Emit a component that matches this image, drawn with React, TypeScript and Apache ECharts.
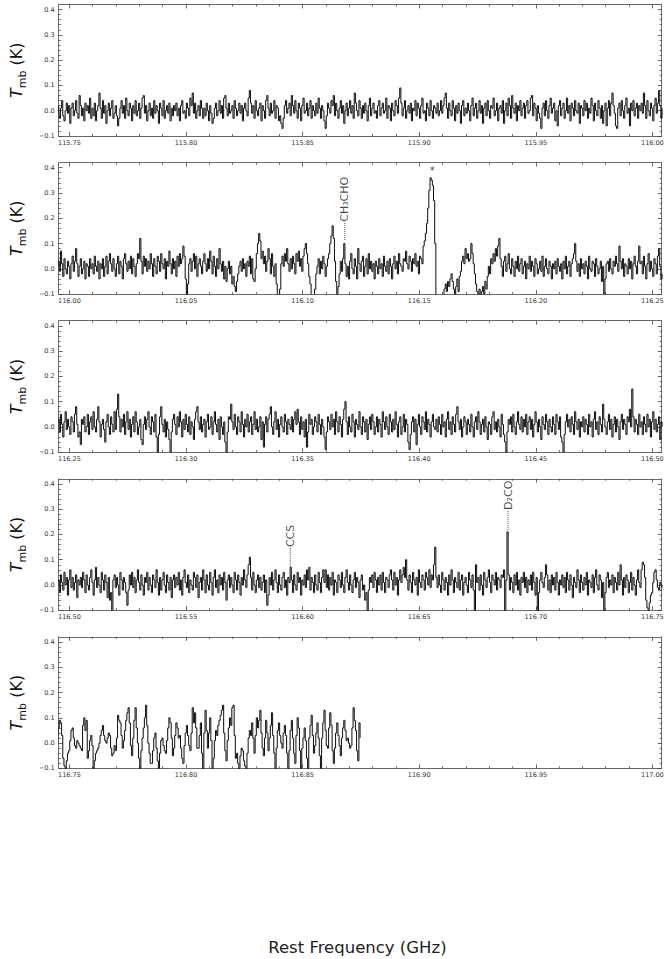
import React, { useEffect, useRef } from 'react';
import * as echarts from 'echarts';

// Spectrum: main-beam temperature in units of 0.01 K, one value per 0.5 MHz channel
const FREQ_START = 115.7454; // GHz, first channel
const CHANNEL_GHZ = 0.0005;

const seg1 = [
  2,-3,1,4,-2,-4,0,3,-1,2,-5,1,3,-2,0,4,-1,-3,6,2,-2,1,-4,3,0,
  2,-1,5,-3,1,-2,3,-4,0,2,7,1,-3,4,-1,2,-5,0,3,-2,1,4,-3,-1,2,
  -2,-6,-3,1,4,-1,2,-3,5,0,-2,3,1,-4,2,-1,4,-2,0,3,-3,1,5,6,-1,
  2,-4,0,3,-2,1,-3,4,-1,2,0,-5,3,1,-2,4,-3,0,2,-1,3,-4,1,-2,2,
  0,3,-2,1,-4,2,4,-1,0,-3,3,1,-2,5,2,7,-1,3,-3,0,2,-2,4,1,-3,
  1,-2,3,0,-4,2,-1,-5,-3,1,3,-2,0,4,-1,2,-3,5,6,1,-2,3,-1,0,2,
  -3,4,1,-2,0,3,-1,2,-4,1,3,0,-2,5,8,3,-1,2,-3,4,0,-2,1,3,-4,
  2,0,-3,4,6,1,-2,3,-1,0,4,-3,2,1,-4,-2,-5,-7,-3,2,4,-1,1,3,-2,
  6,2,-1,4,0,-3,3,1,-4,2,5,-1,0,3,-2,1,4,-3,2,0,-2,3,-1,5,1,
  -3,2,0,-4,-7,-2,3,1,-1,4,2,6,-2,3,0,-3,1,4,-1,2,-5,0,3,-2,1,
  4,-1,2,-3,7,3,0,-2,4,1,-3,2,-1,3,0,-4,2,5,-2,1,3,-1,0,-3,2,
  4,-2,1,3,-1,0,5,-3,2,1,-4,3,0,-2,4,2,-1,5,9,3,-2,1,4,-3,0,
  2,-1,3,-4,1,0,4,-2,3,1,-3,2,5,-1,0,-4,3,1,-2,4,0,-3,2,1,-1,
  3,-2,0,4,-1,2,5,7,1,-3,3,0,-2,4,1,-4,2,-1,3,0,-5,2,4,-2,1,
  -1,3,0,-4,2,5,-2,1,3,-3,0,4,-1,2,-5,1,3,-2,4,0,-3,2,1,5,-2,
  0,3,-4,1,2,-1,4,-5,0,3,-2,5,2,-3,6,1,-1,3,-4,2,0,4,-2,1,3,
  -3,2,4,-1,0,5,6,-2,3,1,-4,2,-1,-3,-7,1,3,-2,4,0,-3,2,5,-1,1,
  3,-4,0,-6,2,4,-2,1,3,-3,0,5,-1,2,-4,3,1,-2,4,0,-1,3,-5,2,1,
  -2,4,0,3,-3,1,-1,5,2,-4,3,0,-2,4,1,-3,2,-5,0,3,-6,1,4,-2,3,
  7,2,-1,-6,-7,1,3,-2,4,0,-3,2,5,-1,1,-6,3,0,4,-2,1,3,-3,2,0,
];
const seg2 = [
  3,-1,7,2,-3,4,0,-2,3,1,-4,2,5,-1,3,8,2,-3,1,4,-2,0,3,-4,2,
  1,-3,4,0,2,-2,5,1,-1,3,-4,2,0,4,-3,1,5,-2,3,6,2,-1,4,0,-3,
  2,5,-2,3,1,-4,4,6,2,-1,3,0,5,-2,4,1,-3,2,6,4,12,3,-2,5,1,
  4,-1,3,0,6,2,-3,4,1,-2,5,3,-1,6,2,0,4,-4,3,1,7,2,-2,4,0,
  3,-3,5,1,6,2,4,9,5,-4,-12,-6,2,4,-1,3,6,0,5,-3,2,4,1,-2,3,
  6,2,-1,4,0,7,3,-2,5,1,-3,4,0,8,2,-1,3,-4,1,-5,0,3,-2,1,-6,
  -3,-7,-9,-5,-2,1,3,-1,4,0,2,-3,3,1,5,-2,4,-4,-5,0,6,10,14,11,4,
  7,2,5,-1,3,8,4,-2,6,1,-3,2,-6,-12,-14,-8,2,5,1,6,3,8,2,-1,4,
  0,5,2,-2,6,3,7,1,4,-1,5,8,10,6,2,-3,-6,-12,-14,-13,-8,-2,1,4,-2,
  3,0,5,2,-3,1,4,6,10,13,17,12,3,-5,-11,-7,-2,3,-1,4,10,2,-3,1,-4,
  3,6,0,-2,4,1,-4,8,2,-1,3,5,-3,1,4,-2,6,0,3,-1,2,-4,3,1,-2,
  4,0,2,-3,5,1,-1,3,-2,4,1,-4,2,5,0,3,-2,6,2,1,-1,4,3,7,2,
  0,5,3,-1,4,2,6,1,3,-2,5,4,2,9,11,14,18,24,31,36,35,33,27,10,-15,
  -16,-14,-18,-15,-13,-12,-8,-6,-9,-5,-7,-4,-2,-5,-8,-10,-7,-4,-9,-3,-1,3,5,2,8,
  4,6,3,4,10,6,2,-2,-6,-9,-10,-8,-11,-9,-7,-10,-5,-8,-3,1,-2,4,2,6,3,
  8,5,9,12,4,1,-3,3,5,-1,2,6,0,-2,4,1,-3,3,0,5,-1,2,4,-2,1,
  3,-4,2,0,5,-1,3,1,-3,4,2,-2,0,3,-1,5,-3,1,4,0,-2,3,1,-4,2,
  0,3,-2,4,1,-1,2,-4,3,0,5,-2,1,3,-3,2,4,6,10,3,-1,2,-3,4,0,
  2,-2,3,1,-4,5,0,-1,3,2,-3,4,1,-2,0,3,-5,1,-10,-4,2,3,-1,4,0,
  -2,3,1,5,2,-1,9,3,0,4,-3,2,1,-2,4,0,3,-4,2,5,1,-2,3,9,2,
];
const seg3 = [
  3,-2,5,1,-4,2,6,-1,3,0,-3,4,2,-2,5,8,1,-4,-2,-7,3,1,4,-2,0,
  5,-3,2,4,-1,6,0,-2,3,8,2,-4,1,3,-1,-6,2,5,0,-3,4,1,-2,6,-1,
  7,13,4,-2,3,0,5,-3,2,6,-1,3,-4,1,4,-2,6,2,-3,0,3,-5,-7,1,4,
  -1,3,6,0,-3,4,2,-2,5,-4,-10,-3,4,8,1,-2,3,-4,2,-1,-5,-10,-2,3,5,
  1,-3,4,0,6,2,-4,3,-1,5,1,-2,4,-3,2,0,-5,3,6,8,2,-1,4,-2,1,
  3,-4,2,5,-1,0,4,-3,2,6,1,-2,3,-5,4,0,-3,2,-6,-10,-2,4,3,9,2,
  -1,5,0,-3,4,2,-2,6,1,-4,3,0,5,-2,2,4,-3,1,6,-1,3,-2,0,4,-5,
  2,-8,1,4,-2,3,5,8,0,-3,2,6,-1,3,-4,1,4,0,-2,5,2,-3,3,1,-1,
  4,-2,3,6,1,7,2,-3,4,-1,2,-4,3,-8,-2,5,1,3,-3,0,4,2,-2,5,1,
  -3,3,0,-4,-9,-2,4,2,-1,5,0,3,-3,6,2,-2,4,1,-4,3,7,10,2,-3,4,
  0,-2,5,2,-4,3,1,-1,6,0,-3,4,2,-2,3,-5,1,4,-1,5,2,-3,0,4,-2,
  3,1,-4,6,2,-1,4,0,-3,5,2,-2,3,-1,6,1,-4,2,4,-3,0,5,-2,3,1,
  -6,-9,-3,2,4,-2,3,-7,1,5,0,-3,4,2,-1,6,-2,3,1,-4,2,5,0,-1,3,
  -2,4,1,-3,5,0,2,-4,3,6,-1,2,-3,4,1,-2,5,8,2,-1,3,-4,0,4,2,
  -3,3,1,-2,5,0,-4,2,4,-1,6,2,-3,1,3,-2,4,0,-5,2,1,-3,4,6,-1,
  2,-2,3,0,-4,5,1,-3,-6,-10,-2,3,1,4,-2,5,0,-3,2,6,1,-1,4,-2,3,
  0,5,-3,2,4,-1,3,-4,1,6,2,-2,3,0,-5,4,1,-1,5,2,-3,3,0,-2,4,
  1,-3,5,2,-1,4,-4,-6,-10,-3,2,5,0,3,-2,4,1,-3,6,2,-1,3,-4,2,0,
  4,-2,3,1,-3,5,0,2,-4,3,6,-1,2,-3,4,1,-2,9,3,0,-3,2,5,-1,3,
  -4,1,4,-2,3,0,-5,2,5,-1,3,1,-3,4,2,7,0,15,4,-2,3,1,-3,5,0,
];
const seg4 = [
  2,-3,4,1,-2,5,0,3,-4,2,6,-1,3,-2,1,4,-5,2,0,3,-1,5,2,-3,4,
  0,-2,3,6,1,-4,2,7,-1,3,0,-3,5,2,-2,4,1,-5,3,-6,-3,-11,2,4,-1,
  3,0,-4,5,2,-2,3,1,-3,-8,-2,4,0,5,-1,3,-3,2,6,1,-2,4,0,-4,3,
  1,5,-2,3,0,-3,4,2,-1,6,1,-4,3,-2,2,5,0,-3,4,1,-2,3,-5,2,4,
  -1,3,0,5,-2,2,-4,3,6,1,-1,4,-3,2,0,-2,5,3,-1,4,-5,1,3,-2,6,
  2,-3,4,0,-2,5,1,-4,3,6,-1,2,-3,4,0,3,-2,5,1,-6,2,4,-1,3,0,
  -3,5,2,-2,4,1,-4,3,0,6,2,-1,4,8,11,3,-2,5,0,-3,2,4,-1,3,-2,
  1,4,-3,2,-8,-4,3,0,5,-2,2,6,1,-3,4,0,-2,3,5,-1,2,-4,3,1,7,
  2,-3,4,0,-2,5,1,3,-4,2,0,4,-1,6,2,7,-2,3,1,-3,4,0,-2,5,1,
  -3,3,6,1,6,-1,4,-2,3,0,5,-4,2,1,-3,4,2,-1,5,0,-3,3,6,1,-2,
  4,0,-3,2,5,-1,3,1,-5,2,4,-2,0,-6,-3,-11,-2,3,1,4,-1,5,2,-3,3,
  0,4,-2,5,1,-3,3,2,-1,4,6,2,-2,5,0,3,-4,2,6,1,4,7,3,10,2,
  -2,4,1,-3,5,2,0,3,-4,6,1,-1,4,2,-2,5,3,0,6,-1,4,2,8,15,3,
  -1,4,0,-3,5,2,-2,3,1,-4,4,0,6,2,-3,3,1,-1,5,-2,2,4,-4,1,3,
  0,-3,5,2,-1,4,-2,-10,8,1,3,-2,4,0,-4,5,2,-1,3,6,1,-3,4,2,0,
  5,-2,3,2,-1,4,3,6,-11,2,21,4,-2,3,1,-3,4,0,5,-2,2,-4,3,1,5,
  -1,3,-3,2,0,4,-2,5,1,-4,3,-11,-3,2,5,1,-1,3,8,4,-2,2,-3,4,0,
  3,-2,5,1,-4,2,0,4,-1,3,-3,5,2,-2,4,0,-5,3,1,-1,6,2,-3,4,1,
  -2,3,0,5,-4,2,1,-1,4,-3,3,6,0,-2,4,2,-5,1,-10,-3,3,5,-1,2,0,
  4,-3,3,1,-2,5,0,8,2,-4,3,-1,4,2,-3,1,5,-2,3,0,-4,2,6,1,-1,
];
const seg5 = [
  6,9,8,3,-6,-9,-10,-7,-4,-3,1,5,6,2,-1,-2,1,0,-1,-2,
  -3,7,10,5,9,-6,-3,1,3,-1,-10,-7,-4,-3,-2,0,3,5,7,3,
  1,0,2,4,3,-2,-5,-4,-1,-3,2,11,9,8,3,-2,1,5,9,12,
  14,8,-1,-5,2,9,14,6,0,-6,-10,-3,2,6,10,15,7,0,-4,-8,
  -8,-3,2,4,-2,-7,-10,-4,1,2,-1,-3,-4,1,6,10,8,2,-5,-2,
  3,8,6,2,3,-2,-6,-8,-1,4,7,3,-1,-3,4,14,8,12,6,-2,
  -2,3,8,-4,-10,4,13,5,-2,4,10,1,-10,-6,1,5,3,7,9,11,
  13,15,4,-3,-7,1,6,10,7,14,15,3,-6,-4,-8,-10,-5,-2,-3,-7,
  -9,-10,-4,2,5,3,8,2,-4,3,10,6,9,13,4,-2,-5,2,9,4,
  -3,2,7,12,3,-4,-10,-2,5,8,3,0,-2,4,7,3,-4,-10,-3,5,
  9,2,-4,-8,3,10,6,-3,-10,-2,2,6,1,-6,-10,2,7,11,3,-4,
  -1,4,8,2,-5,-10,2,8,13,5,-1,-2,6,12,7,-3,-8,-2,4,8,
  3,-1,-5,2,6,9,5,1,2,0,-2,-1,6,14,9,5,-3,-7,8,2,
];

// Panels
const PANEL_START = [115.7454, 115.9954, 116.2454, 116.4954, 116.7454];
const PANEL_SPAN = 0.2586;
const X_TICKS = [
  [115.75, 115.8, 115.85, 115.9, 115.95, 116.0],
  [116.0, 116.05, 116.1, 116.15, 116.2, 116.25],
  [116.25, 116.3, 116.35, 116.4, 116.45, 116.5],
  [116.5, 116.55, 116.6, 116.65, 116.7, 116.75],
  [116.75, 116.8, 116.85, 116.9, 116.95, 117.0],
];
const Y_MIN = -0.1;
const Y_MAX = 0.42;
const Y_TICKS = [-0.1, 0, 0.1, 0.2, 0.3, 0.4];

// Line identifications
const ANNO_LABELS = ['CH\u2083CHO', 'CCS', 'D\u2082CO'];
const ANNO_FREQ = [116.1181, 116.5947, 116.6881];
const ANNO_LINE_LOW = [0.114, 0.072, 0.217];
const ANNO_LINE_HIGH = [0.186, 0.15, 0.297];
const STAR_FREQ = 116.1556;
const STAR_Y = 0.389;

const FONT = 'DejaVu Sans';
const FRAME = '#6a6a6a';
const TICK = '#444';
const TEXT = '#333';

function panelOf(f: number) {
  for (let k = 0; k < PANEL_START.length; k++) {
    if (f >= PANEL_START[k] && f < PANEL_START[k] + PANEL_SPAN) return k;
  }
  return 0;
}

export default function App() {
  const ref = useRef<HTMLDivElement>(null);
  useEffect(() => {
    const chart = echarts.init(ref.current!, null, { renderer: 'svg' });
    const spectrum = [...seg1, ...seg2, ...seg3, ...seg4, ...seg5];
    const grids: any[] = [];
    const xAxes: any[] = [];
    const yAxes: any[] = [];
    const series: any[] = [];

    const yMinor: number[] = [];
    for (let v = -5; v < 21; v++) if (v % 5 !== 0) yMinor.push(v / 50);

    for (let k = 0; k < 5; k++) {
      const min = PANEL_START[k];
      const max = min + PANEL_SPAN;
      grids.push({ left: 43, top: 4.5 + 158.1 * k, width: 618.7, height: 131.5 });
      const xMinor: number[] = [];
      for (let v = Math.ceil(min * 100); v <= Math.floor(max * 100); v++) if (v % 5 !== 0) xMinor.push(v / 100);
      const xb = {
        type: 'value', gridIndex: k, min, max, splitLine: { show: false },
        axisLine: { show: true, onZero: false, lineStyle: { color: FRAME, width: 1 } },
      };
      const tk = (vals: number[], len: number) => ({
        show: true, inside: true, length: len, customValues: vals, lineStyle: { color: TICK, width: 0.8 },
      });
      xAxes.push({
        ...xb, position: 'bottom', axisTick: tk(X_TICKS[k], 4),
        axisLabel: {
          show: true, customValues: X_TICKS[k], fontSize: 6.5, color: TEXT, fontFamily: FONT, margin: 3,
          formatter: (v: number) => v.toFixed(2),
        },
      });
      xAxes.push({ ...xb, position: 'bottom', axisLine: { show: false, onZero: false }, axisTick: tk(xMinor, 2), axisLabel: { show: false } });
      xAxes.push({ ...xb, position: 'top', axisTick: tk(X_TICKS[k], 4), axisLabel: { show: false } });
      xAxes.push({ ...xb, position: 'top', axisLine: { show: false, onZero: false }, axisTick: tk(xMinor, 2), axisLabel: { show: false } });

      const yb = {
        type: 'value', gridIndex: k, min: Y_MIN, max: Y_MAX, splitLine: { show: false },
        axisLine: { show: true, onZero: false, lineStyle: { color: FRAME, width: 1 } },
      };
      yAxes.push({
        ...yb, position: 'left', axisTick: tk(Y_TICKS, 4),
        axisLabel: {
          show: true, customValues: Y_TICKS, fontSize: 6.5, color: TEXT, fontFamily: FONT, margin: 4,
          formatter: (v: number) => (v < 0 ? '\u2212' + Math.abs(v).toFixed(1) : v.toFixed(1)),
        },
        name: '{t|T}{s|mb}{k| (K)}', nameLocation: 'middle', nameGap: 23, nameRotate: 90,
        nameTextStyle: {
          fontFamily: FONT, color: '#111',
          rich: {
            t: { fontFamily: FONT, fontSize: 16, fontStyle: 'italic', lineHeight: 20, verticalAlign: 'top', color: '#111' },
            s: { fontFamily: FONT, fontSize: 11, lineHeight: 10, verticalAlign: 'bottom', color: '#111' },
            k: { fontFamily: FONT, fontSize: 16, lineHeight: 20, verticalAlign: 'top', color: '#111' },
          },
        },
      });
      yAxes.push({ ...yb, position: 'left', axisLine: { show: false, onZero: false }, axisTick: tk(yMinor, 2), axisLabel: { show: false } });
      yAxes.push({ ...yb, position: 'right', axisTick: tk(Y_TICKS, 4), axisLabel: { show: false } });
      yAxes.push({ ...yb, position: 'right', axisLine: { show: false, onZero: false }, axisTick: tk(yMinor, 2), axisLabel: { show: false } });

      const data: number[][] = [];
      for (let i = 0; i < spectrum.length; i++) {
        const f = FREQ_START + i * CHANNEL_GHZ;
        if (f >= min - CHANNEL_GHZ && f <= max + CHANNEL_GHZ) data.push([f, spectrum[i] / 100]);
      }
      series.push({
        type: 'line', xAxisIndex: 4 * k, yAxisIndex: 4 * k, data, step: 'middle', showSymbol: false,
        symbol: 'none', clip: true, silent: true,
        lineStyle: { color: '#0d0d0d', width: 1 },
      });
    }

    ANNO_LABELS.forEach((label, a) => {
      const k = panelOf(ANNO_FREQ[a]);
      series.push({
        type: 'line', xAxisIndex: 4 * k, yAxisIndex: 4 * k, symbol: 'none', silent: true,
        data: [[ANNO_FREQ[a], ANNO_LINE_LOW[a]], [ANNO_FREQ[a], ANNO_LINE_HIGH[a]]],
        lineStyle: { color: '#222', width: 0.8, type: [1, 1] },
      });
      series.push({
        type: 'scatter', xAxisIndex: 4 * k, yAxisIndex: 4 * k, symbolSize: 0.1, silent: true,
        itemStyle: { color: 'rgba(0,0,0,0)' },
        data: [[ANNO_FREQ[a], ANNO_LINE_HIGH[a]]],
        label: {
          show: true, position: 'inside', rotate: 90, align: 'left', verticalAlign: 'middle',
          formatter: label, fontFamily: FONT, fontSize: 11, color: '#1a1a1a', distance: 0,
        },
      });
    });
    {
      const k = panelOf(STAR_FREQ);
      series.push({
        type: 'scatter', xAxisIndex: 4 * k, yAxisIndex: 4 * k, symbolSize: 0.1, silent: true,
        itemStyle: { color: 'rgba(0,0,0,0)' },
        data: [[STAR_FREQ, STAR_Y]],
        label: {
          show: true, position: 'inside', align: 'center', verticalAlign: 'middle',
          formatter: '*', fontFamily: FONT, fontSize: 10, color: '#1a1a1a',
        },
      });
    }

    chart.setOption({
      animation: false,
      backgroundColor: '#fff',
      textStyle: { fontFamily: FONT },
      title: {
        text: 'Rest Frequency (GHz)', left: 352.4, top: 934, textAlign: 'center',
        textStyle: { fontFamily: FONT, fontSize: 16.5, fontWeight: 'normal', color: '#222' },
      },
      grid: grids,
      xAxis: xAxes,
      yAxis: yAxes,
      series,
    });
    return () => chart.dispose();
  }, []);
  return (
    <div
      ref={ref}
      style={{ position: 'fixed', left: 0, top: 0, width: 667, height: 959, background: '#fff' }}
    />
  );
}
